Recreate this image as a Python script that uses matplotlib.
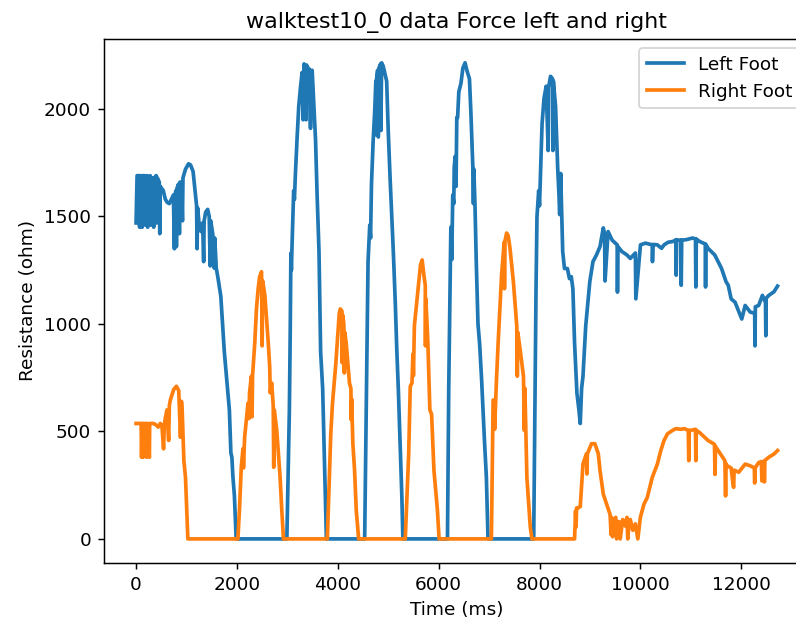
import matplotlib
matplotlib.use("Agg")
import matplotlib.pyplot as plt

# Left foot sensor (ms, ohm)
left_t = [0, 20, 60, 70, 80, 110, 120, 130, 170, 180, 190, 220, 230, 240, 280, 290, 300, 340, 350, 360,
          400, 410, 420, 460, 470, 480, 540, 580, 620, 660, 700, 740, 760, 770, 790, 800, 810, 840, 860, 870,
          900, 920, 930, 980, 1040, 1080, 1130, 1170, 1200, 1210, 1220, 1260, 1290, 1320, 1340, 1350, 1380,
          1420, 1450, 1470, 1480, 1520, 1550, 1560, 1590, 1620, 1680, 1750, 1850, 1880, 1900, 1920, 1950, 1985,
          2990, 3040, 3058, 3070, 3080, 3091, 3110, 3125, 3140, 3160, 3190, 3225, 3260, 3292, 3312, 3330,
          3345, 3373, 3380, 3400, 3420, 3440, 3459, 3470, 3492, 3530, 3559, 3590, 3627, 3660, 3700, 3728,
          3760, 3774,
          4533, 4570, 4600, 4634, 4650, 4668, 4701, 4730, 4755, 4760, 4769, 4790, 4803, 4815, 4849, 4855,
          4869, 4900, 4940, 4969, 5000, 5037, 5070, 5104, 5140, 5170, 5200, 5237, 5270, 5291,
          6175, 6200, 6220, 6242, 6260, 6280, 6300, 6309, 6330, 6345, 6360, 6376, 6400, 6443, 6480, 6524,
          6560, 6611, 6640, 6678, 6690, 6698, 6720, 6745, 6780, 6812, 6850, 6879, 6910, 6946, 6979,
          7885, 7931, 7950, 7984, 8000, 8051, 8090, 8132, 8172, 8180, 8218, 8260, 8265, 8275, 8319, 8360,
          8386, 8400, 8420, 8460, 8495, 8553, 8594, 8630, 8662, 8695, 8742, 8782, 8808, 8835, 8862, 8917,
          8997, 9060, 9130, 9200, 9265, 9290, 9300, 9360, 9440, 9540, 9546, 9555, 9633, 9734, 9800, 9901,
          9910, 10002, 10100, 10236, 10240, 10250, 10337, 10420, 10470, 10550, 10650, 10706, 10710, 10720,
          10806, 10810, 10820, 10907, 11040, 11093, 11100, 11110, 11174, 11287, 11293, 11300, 11341, 11475,
          11610, 11700, 11743, 11800, 11878, 12011, 12078, 12180, 12267, 12273, 12280, 12346, 12420, 12481,
          12488, 12495, 12548, 12650, 12720]
left_v = [1470, 1690, 1690, 1450, 1690, 1680, 1450, 1690, 1690, 1460, 1680, 1690, 1450, 1680, 1690, 1460,
          1680, 1680, 1450, 1680, 1690, 1470, 1680, 1660, 1420, 1640, 1620, 1580, 1565, 1560, 1580, 1600,
          1350, 1600, 1620, 1360, 1630, 1650, 1420, 1660, 1660, 1480, 1680, 1720, 1745, 1740, 1710, 1620,
          1550, 1350, 1540, 1440, 1430, 1470, 1290, 1480, 1520, 1533, 1500, 1270, 1480, 1420, 1260, 1400,
          1260, 1220, 1130, 870, 600, 400, 380, 290, 200, 0,
          0, 600, 990, 1330, 1250, 1350, 1500, 1620, 1580, 1700, 1850, 2010, 2100, 2170, 1950, 2210, 2200,
          1950, 2205, 2190, 2190, 2180, 1910, 2180, 2180, 2000, 1855, 1600, 1340, 870, 700, 440, 150, 0,
          0, 700, 1290, 1460, 1400, 1650, 1850, 1980, 2130, 1880, 2140, 2180, 1870, 2190, 2210, 1900, 2215,
          2200, 2160, 2130, 1900, 1680, 1500, 1320, 1100, 880, 700, 440, 200, 0,
          0, 700, 1050, 1450, 1300, 1600, 1560, 1730, 1780, 1640, 1960, 1960, 2080, 2120, 2190, 2215, 2180,
          2140, 1980, 1730, 1560, 1720, 1560, 1300, 1000, 910, 750, 600, 450, 290, 0,
          0, 1164, 1500, 1620, 1550, 1933, 2050, 2106, 1807, 2100, 2152, 2140, 1807, 2130, 2011, 1729, 1600,
          1509, 1700, 1337, 1258, 1258, 1211, 1220, 1164, 913, 678, 600, 537, 700, 757, 992, 1196, 1290,
          1321, 1360, 1447, 1420, 1200, 1430, 1390, 1368, 1148, 1360, 1337, 1321, 1305, 1330, 1117, 1368,
          1376, 1368, 1290, 1370, 1368, 1352, 1368, 1380, 1384, 1392, 1227, 1390, 1390, 1180, 1390, 1392,
          1400, 1395, 1172, 1395, 1384, 1372, 1172, 1370, 1352, 1321, 1258, 1196, 1180, 1117, 1101, 1023,
          1086, 1055, 1050, 898, 1080, 1086, 1133, 1100, 945, 1120, 1133, 1150, 1176]

# Right foot sensor
right_t = [0, 100, 109, 120, 143, 150, 200, 210, 220, 264, 270, 345, 400, 440, 480, 512, 545, 560, 579,
           612, 646, 660, 679, 746, 800, 846, 880, 900, 914, 948, 980, 1027,
           2019, 2052, 2086, 2120, 2130, 2153, 2219, 2240, 2250, 2286, 2300, 2310, 2354, 2387, 2421, 2450,
           2488, 2500, 2510, 2554, 2621, 2650, 2660, 2689, 2720, 2730, 2740, 2790, 2856, 2889, 2923,
           3793, 3861, 3895, 3962, 4029, 4050, 4083, 4090, 4100, 4120, 4130, 4140, 4166, 4232, 4260, 4266,
           4275, 4299, 4333, 4367, 4414,
           5338, 5406, 5437, 5471, 5490, 5500, 5519, 5572, 5606, 5640, 5673, 5707, 5735, 5739, 5745, 5770,
           5786, 5826, 5860, 5907, 5975, 6009,
           7046, 7080, 7100, 7110, 7147, 7180, 7215, 7248, 7300, 7305, 7314, 7348, 7380, 7415, 7482, 7549,
           7560, 7570, 7615, 7682, 7700, 7710, 7750, 7817, 7851,
           8695, 8715, 8725, 8735, 8760, 8808, 8862, 8930, 8940, 8950, 9031, 9098, 9166, 9200, 9265, 9332,
           9399, 9420, 9430, 9450, 9470, 9513, 9530, 9560, 9580, 9600, 9650, 9700, 9734, 9750, 9780, 9800,
           9850, 9900, 9950, 10000, 10070, 10136, 10236, 10337, 10405, 10470, 10538, 10639, 10706, 10800,
           10873, 10950, 10960, 10970, 11000, 11093, 11100, 11110, 11174, 11341, 11470, 11480, 11490, 11543,
           11676, 11690, 11700, 11720, 11800, 11840, 11850, 11860, 11950, 12078, 12180, 12260, 12267, 12275,
           12346, 12400, 12410, 12420, 12450, 12460, 12470, 12548, 12650, 12720]
right_v = [537, 537, 380, 537, 380, 537, 537, 380, 537, 380, 537, 537, 530, 520, 537, 530, 419, 530, 560,
           600, 458, 620, 646, 695, 710, 690, 473, 640, 600, 364, 286, 0,
           0, 144, 333, 420, 330, 473, 631, 560, 680, 757, 568, 760, 913, 1070, 1164, 1220,
           1243, 898, 1200, 1133, 913, 800, 680, 725, 620, 333, 600, 505, 286, 136, 0,
           0, 489, 631, 819, 1050, 1070, 1060, 819, 1040, 1000, 772, 960, 913, 725, 700, 555, 650, 443,
           318, 130, 0,
           0, 396, 710, 725, 860, 760, 992, 1117, 1196, 1274, 1298, 1227, 1180, 898, 1117, 1000,
           913, 600, 580, 318, 136, 0,
           0, 646, 646, 510, 741, 913, 1070, 1227, 1380, 1164, 1384, 1423, 1410, 1352, 1196, 992, 757, 960,
           882, 757, 505, 700, 286, 55, 0,
           0, 129, 55, 144, 144, 150, 348, 396, 302, 396, 443, 443, 396, 318, 208, 161, 114, 20, 100, 10,
           90, 100, 0, 80, 80, 0, 90, 60, 100, 0, 80, 90, 40, 70, 0, 100, 161, 192, 286, 348, 411, 458, 489,
           505, 513, 510, 513, 505, 364, 505, 505, 510, 364, 505, 495, 458, 440, 300, 430, 411, 364, 200, 350,
           340, 330, 250, 240, 320, 310, 348, 340, 330, 260, 330, 355, 360, 270, 350, 360, 265, 365, 380, 395,
           411]

fig = plt.figure(figsize=(796 / 133, 626 / 133), dpi=133)
# axes run a little past the right edge, as in the original crop
ax = fig.add_axes([104 / 796, 63.3 / 626, 705.6 / 796, 523.7 / 626])

ax.plot(left_t, left_v, linewidth=2, label="Left Foot")
ax.plot(right_t, right_v, linewidth=2, label="Right Foot")

ax.set_title("walktest10_0 data Force left and right")
ax.set_xlabel("Time (ms)")
ax.set_ylabel("Resistance (ohm)")
ax.legend(loc="upper right")

fig.savefig("out.png", dpi=133)
